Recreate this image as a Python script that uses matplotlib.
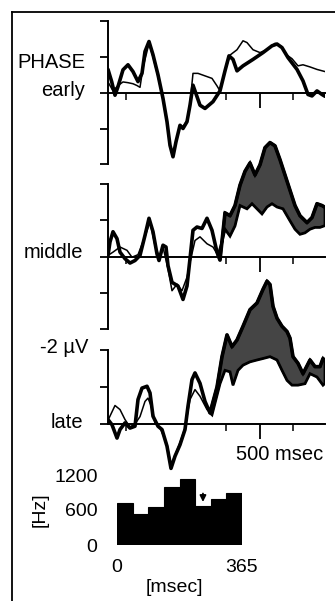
import numpy as np
import matplotlib.pyplot as plt
from matplotlib.lines import Line2D

plt.rcParams['font.family'] = ['Liberation Sans', 'DejaVu Sans']

W, H = 335, 601

# ERP traces, time in msec, amplitude in microvolt (negative plotted up)
early_thick_t = [45, 56, 66, 75, 90, 105, 120, 135, 147, 156, 168, 180, 195, 210, 222,
                 231, 240, 249, 261, 270, 282, 291, 300, 321, 336, 360, 381, 396, 408, 420,
                 432, 450, 480, 510, 537, 552, 567, 585, 612, 630, 645, 657, 672, 687, 696]
early_thick_uv = [-0.65, -0.31, 0.07, -0.17, -0.64, -0.78, -0.59, -0.31, -0.54, -1.15,
                  -1.43, -1.06, -0.5, 0.16, 0.81, 1.47, 1.79, 1.37, 0.91, 1.0,
                  0.81, 0.35, -0.21, 0.35, 0.44, 0.25, -0.05, -0.61, -1.03, -0.93,
                  -0.61, -0.75, -0.93, -1.12, -1.31, -1.36, -1.26, -0.98, -0.65, -0.33,
                  0.05, 0.09, -0.05, 0.05, 0.1]
early_thin_t = [45, 60, 75, 90, 105, 120, 132, 141, 150, 168, 180, 195, 210, 222, 231,
                240, 249, 261, 270, 282, 291, 300, 315, 342, 357, 372, 381, 396, 411, 432,
                450, 462, 480, 501, 522, 546, 564, 582, 597, 615, 630, 651, 672, 696]
early_thin_uv = [-0.3, -0.05, -0.2, -0.3, -0.28, -0.25, -0.2, -0.15, -0.7, -1.38,
                 -1.0, -0.45, 0.2, 0.85, 1.45, 1.75, 1.35, 0.9, 0.95, 0.78,
                 0.3, -0.54, -0.54, -0.45, -0.4, -0.19, -0.05, -0.6, -1.05, -1.2,
                 -1.45, -1.4, -1.2, -1.12, -1.2, -1.38, -1.3, -1.05, -0.95, -0.75,
                 -0.78, -0.72, -0.65, -0.59]

middle_thick_t = [45, 51, 60, 72, 81, 96, 111, 126, 141, 156, 168, 180, 192, 198, 210,
                  219, 225, 237, 255, 270, 282, 291, 300, 312, 327, 342, 357, 372, 381, 396,
                  411, 426, 441, 456, 471, 486, 501, 516, 531, 546, 561, 576, 591, 606, 621,
                  642, 657, 672, 687, 696]
middle_thick_uv = [-0.03, -0.4, -0.68, -0.49, -0.12, 0.06, 0.18, 0.11, -0.03, -0.58,
                   -1.05, -0.68, -0.07, 0.11, -0.31, -0.26, 0.25, 0.71, 0.81, 1.18,
                   0.81, 0.06, -0.72, -0.81, -0.77, -1.05, -0.72, -0.12, 0.1, -1.2,
                   -1.12, -1.4, -1.96, -2.34, -2.57, -2.24, -2.52, -2.99, -3.13, -3.04,
                   -2.66, -2.24, -1.82, -1.4, -1.12, -0.93, -1.07, -1.45, -1.4, -1.35]
middle_thin_t = [45, 60, 81, 102, 117, 135, 156, 171, 186, 201, 210, 225, 237, 252, 267,
                 282, 291, 306, 321, 342, 360, 375, 387, 396, 411, 426, 441, 462, 477, 492,
                 507, 522, 537, 552, 570, 591, 606, 621, 636, 651, 666, 681, 696]
middle_thin_uv = [-0.03, -0.12, -0.26, -0.17, 0.02, -0.05, -0.55, -0.95, -0.3, 0.05,
                  -0.26, 0.34, 0.94, 0.76, 0.94, 0.57, 0.16, -0.44, -0.54, -0.35,
                  -0.26, -0.03, -0.4, -0.75, -0.56, -0.84, -1.4, -1.31, -1.45, -1.31,
                  -1.17, -1.36, -1.45, -1.36, -1.31, -0.98, -0.75, -0.61, -0.65, -0.75,
                  -0.8, -0.8, -0.85]

late_thick_t = [45, 57, 72, 81, 96, 111, 126, 135, 147, 162, 171, 180, 195, 207, 222,
                234, 246, 261, 276, 285, 297, 306, 321, 336, 351, 372, 387, 402, 417, 432,
                450, 471, 492, 510, 522, 531, 540, 552, 567, 582, 591, 600, 615, 630, 651,
                666, 681, 690, 696]
late_thick_uv = [-0.12, 0.02, 0.38, 0.15, -0.03, 0.11, 0.06, -0.66, -0.97, -1.02,
                 -0.84, -0.21, 0.06, 0.15, 0.6, 1.2, 0.87, 0.56, 0.15, -0.48,
                 -1.2, -1.38, -1.1, -0.61, -0.3, -1.0, -1.82, -2.41, -2.09, -2.27,
                 -2.64, -3.09, -3.27, -3.64, -3.86, -3.77, -3.18, -2.86, -2.64, -2.5,
                 -2.32, -1.82, -1.64, -1.36, -1.73, -1.55, -1.55, -1.77, -1.7]
late_thin_t = [45, 66, 81, 96, 111, 126, 141, 156, 165, 177, 186, 201, 222, 234, 246,
               261, 276, 291, 306, 321, 342, 357, 381, 396, 411, 420, 435, 450, 471, 492,
               510, 531, 552, 567, 582, 597, 615, 636, 651, 672, 690, 696]
late_thin_uv = [-0.1, -0.5, -0.39, -0.12, 0.08, 0.0, -0.2, -0.61, -0.7, -0.43,
                -0.03, 0.1, 0.55, 1.1, 0.85, 0.5, 0.1, -0.66, -0.93, -0.75,
                -0.39, -0.25, -1.09, -1.45, -1.41, -1.05, -1.45, -1.59, -1.68, -1.73,
                -1.77, -1.82, -1.73, -1.45, -1.18, -1.05, -1.05, -1.09, -1.36, -1.27,
                -1.05, -1.1]

# firing-rate histogram
hist_hz = [725, 530, 657, 1000, 1130, 670, 790, 890]
hist_span_ms = 365
arrow_ms, arrow_hz_from, arrow_hz_to = 251, 930, 690


def fpos(x, y):
    return x / W, 1 - y / H


fig = plt.figure(figsize=(W / 100, H / 100), dpi=100)
fig.patch.set_facecolor('white')

# frame of the scanned figure
fig.add_artist(Line2D([12 / W, 1], [1 - 12 / H] * 2, color='black', lw=1.3,
                      transform=fig.transFigure))
fig.add_artist(Line2D([12 / W] * 2, [1 - 12 / H, 0], color='black', lw=1.3,
                      transform=fig.transFigure))


def eeg_axes(y0, s, ylo, yhi, ytick):
    # y0 = pixel row of the zero line, s = pixels per microvolt
    bot = y0 + ylo * s
    top = y0 + yhi * s
    ax = fig.add_axes([108 / W, 1 - bot / H, (325 - 108) / W, (bot - top) / H])
    ax.patch.set_visible(False)
    ax.set_xlim(45, 696)
    ax.set_ylim(ylo, yhi)
    for side in ['top', 'right']:
        ax.spines[side].set_visible(False)
    ax.spines['left'].set_bounds(min(ytick), max(ytick))
    ax.spines['left'].set_linewidth(1.4)
    ax.spines['bottom'].set_position(('data', 0))
    ax.spines['bottom'].set_linewidth(1.4)
    ax.set_yticks(ytick)
    ax.set_yticklabels([])
    ax.set_xticks([500])
    ax.set_xticks([100, 400, 600], minor=True)
    ax.set_xticklabels([])
    ax.tick_params(axis='y', direction='out', length=6, width=1.3)
    ax.tick_params(axis='x', which='major', direction='out', length=11, width=1.3)
    ax.tick_params(axis='x', which='minor', direction='out', length=5, width=1.1)
    return ax


def shade(ax, t1, v1, t2, v2, start):
    a = [(t, v) for t, v in zip(t1, v1) if t >= start]
    b = [(t, v) for t, v in zip(t2, v2) if t >= start][::-1]
    xs, ys = zip(*(a + b))
    ax.fill(xs, ys, facecolor='#454545', edgecolor='black', lw=2.0, zorder=2)


def traces(ax, tk, vk, tn, vn):
    ax.plot(tn, vn, color='black', lw=1.1, zorder=3, solid_joinstyle='round')
    ax.plot(tk, vk, color='black', lw=2.6, zorder=4, solid_joinstyle='round',
            solid_capstyle='round')


ax1 = eeg_axes(92.7, 35.8, 2.3, -2.3, [-2, -1, 0, 1, 2])
traces(ax1, early_thick_t, early_thick_uv, early_thin_t, early_thin_uv)

ax2 = eeg_axes(256.5, 36.4, 2.3, -3.4, [-2, -1, 0, 1, 2])
shade(ax2, middle_thick_t, middle_thick_uv, middle_thin_t, middle_thin_uv, 375)
traces(ax2, middle_thick_t, middle_thick_uv, middle_thin_t, middle_thin_uv)

ax3 = eeg_axes(424.0, 37.0, 1.5, -4.1, [-2, -1, 0])
shade(ax3, late_thick_t, late_thick_uv, late_thin_t, late_thin_uv, 351)
traces(ax3, late_thick_t, late_thick_uv, late_thin_t, late_thin_uv)

fs = 14.5
fig.text(*fpos(85, 68), 'PHASE', ha='right', va='baseline', fontsize=fs)
fig.text(*fpos(85, 96), 'early', ha='right', va='baseline', fontsize=fs)
fig.text(*fpos(83, 258), 'middle', ha='right', va='baseline', fontsize=fs)
fig.text(*fpos(88, 353), '-2 µV', ha='right', va='baseline', fontsize=fs)
fig.text(*fpos(83, 428), 'late', ha='right', va='baseline', fontsize=fs)
fig.text(*fpos(323, 460), '500 msec', ha='right', va='baseline', fontsize=fs)

# histogram
axh = fig.add_axes([117 / W, 1 - 545 / H, (242 - 117) / W, 70 / H])
edges = np.linspace(0, hist_span_ms, len(hist_hz) + 1)
axh.bar(edges[:-1], hist_hz, width=np.diff(edges), align='edge', color='black',
        edgecolor='black', lw=0.8)
axh.set_xlim(0, hist_span_ms)
axh.set_ylim(0, 1200)
for sp in axh.spines.values():
    sp.set_visible(False)
axh.set_yticks([0, 600, 1200])
axh.set_xticks([0, hist_span_ms])
axh.tick_params(length=0, labelsize=14)
axh.tick_params(axis='y', pad=14)
axh.tick_params(axis='x', pad=10)
axh.annotate('', xy=(arrow_ms, arrow_hz_to), xytext=(arrow_ms, arrow_hz_from),
             arrowprops=dict(arrowstyle='-|>', color='black', lw=1.3, mutation_scale=9))
fig.text(*fpos(40, 510), '[Hz]', rotation=90, ha='center', va='center', fontsize=14)
fig.text(*fpos(174, 592), '[msec]', ha='center', va='baseline', fontsize=14)

fig.savefig('out.png', dpi=100)
